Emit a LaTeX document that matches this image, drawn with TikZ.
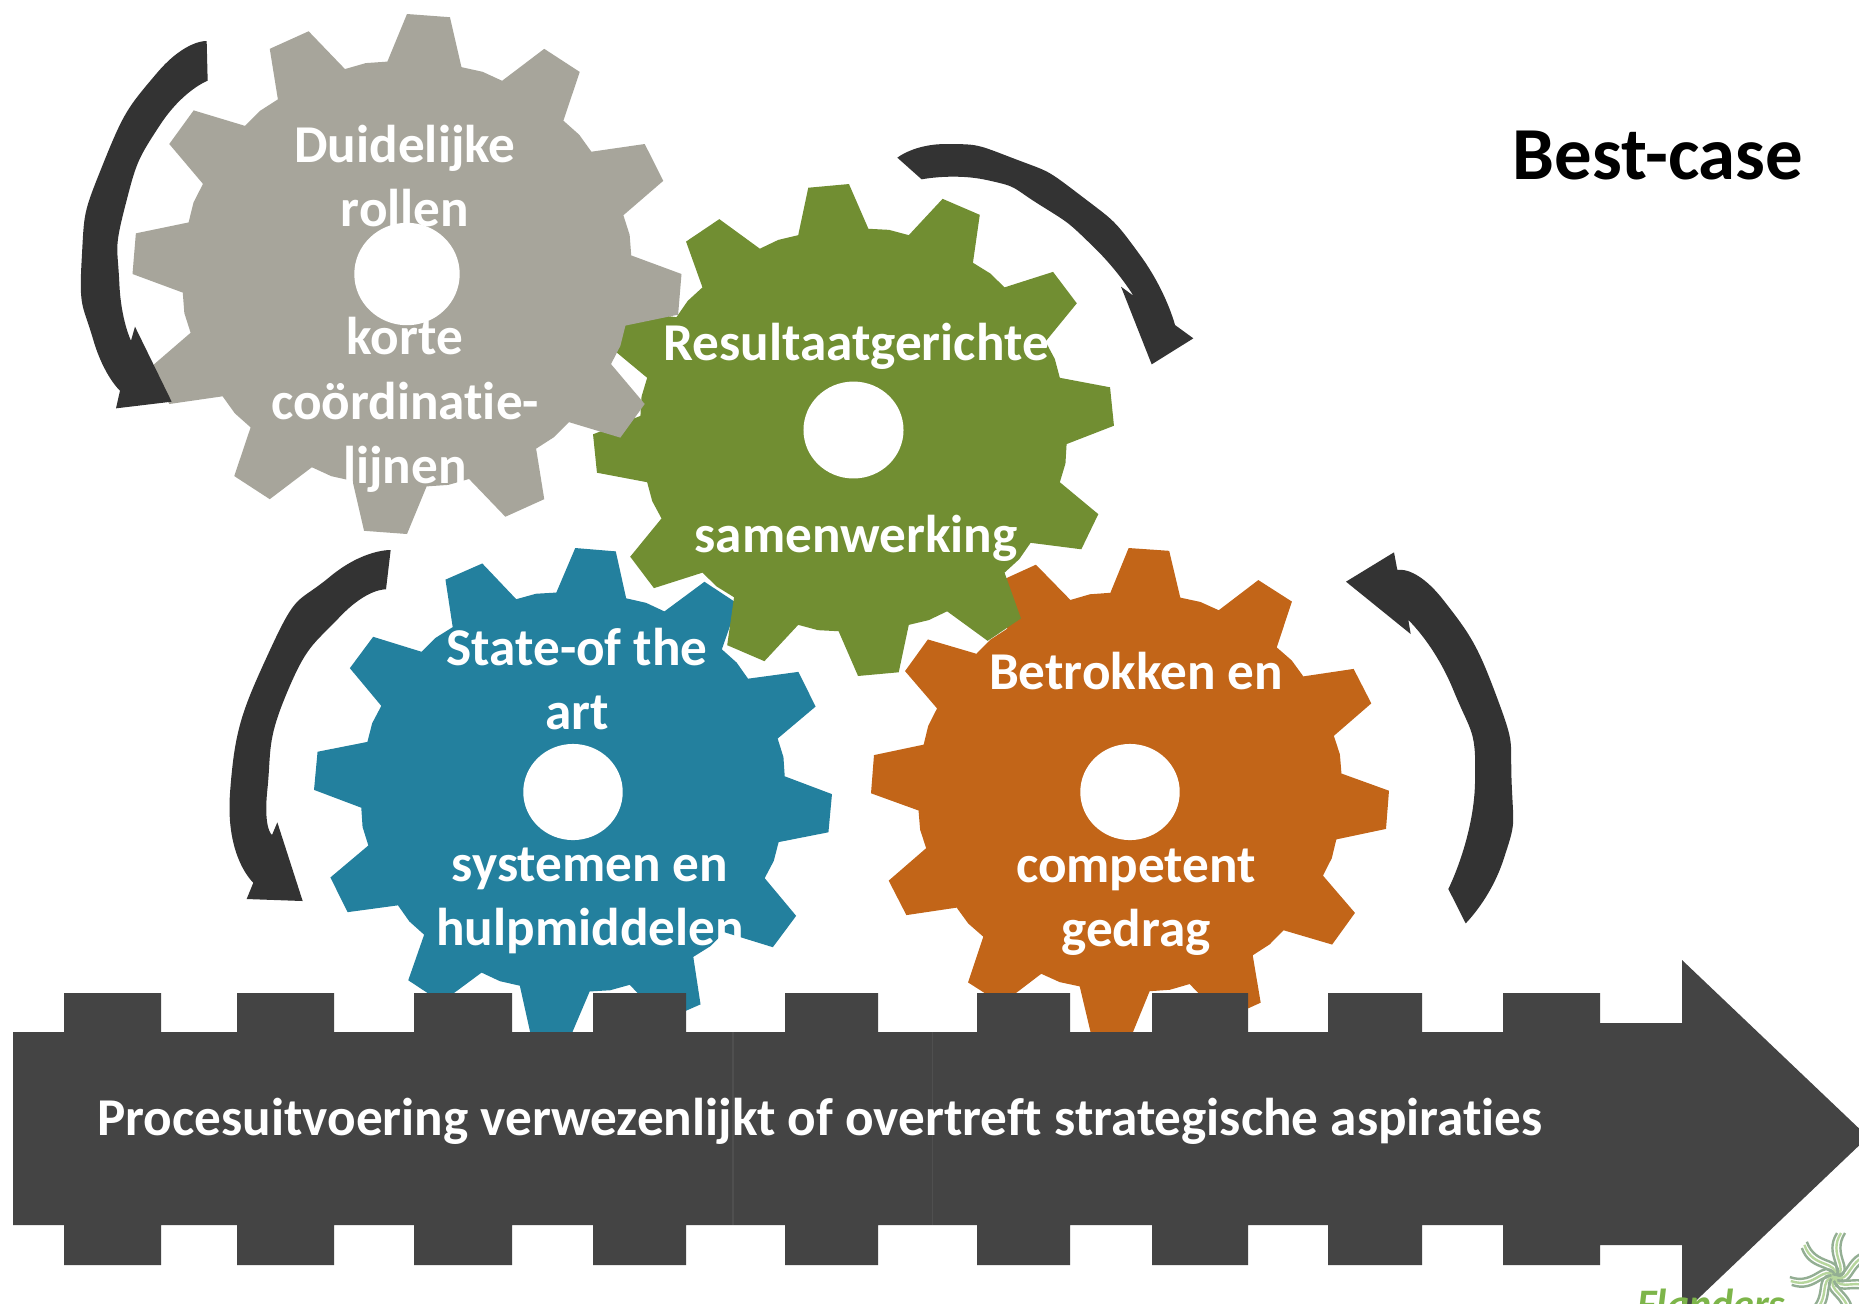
\documentclass[tikz,border=0pt]{standalone}
\usepackage{fontspec}
\setmainfont{Carlito}[Ligatures=NoCommon]
\definecolor{greygear}{HTML}{A7A59B}
\definecolor{greengear}{HTML}{718E32}
\definecolor{bluegear}{HTML}{23809E}
\definecolor{orangegear}{HTML}{C26518}
\definecolor{bandgrey}{HTML}{444444}
\definecolor{seamgrey}{HTML}{4F4F4F}
\definecolor{arrowdark}{HTML}{333333}
\definecolor{flandgreen}{HTML}{7DB54A}
\definecolor{logoa}{HTML}{93AE93}
\definecolor{logob}{HTML}{B6D69C}
\newcommand{\gearshape}[6]{%
  \fill[#6] ({#1+#3*cos(#5-4.5)},{#2-#4*sin(#5-4.5)})
  \foreach \k in {0,...,11}{
    -- ({#1+#3*cos(#5+30*\k-4.5)},{#2-#4*sin(#5+30*\k-4.5)})
    -- ({#1+#3*cos(#5+30*\k+4.5)},{#2-#4*sin(#5+30*\k+4.5)})
    -- ({#1+.82*#3*cos(#5+30*\k+9.5)},{#2-.82*#4*sin(#5+30*\k+9.5)})
    -- ({#1+.825*#3*cos(#5+30*\k+15)},{#2-.825*#4*sin(#5+30*\k+15)})
    -- ({#1+.82*#3*cos(#5+30*\k+20.5)},{#2-.82*#4*sin(#5+30*\k+20.5)})
  } -- cycle;
  \fill[white] (#1,#2) ellipse [x radius=.192*#3, y radius=.197*#4];
}
\tikzset{
  geartext/.style={font=\fontsize{26.6}{32}\selectfont\bfseries,text=white,anchor=base,inner sep=0pt},
  bandtext/.style={font=\fontsize{26.6}{32}\selectfont\bfseries,text=white,anchor=base west,inner sep=0pt},
  titletext/.style={font=\fontsize{37.4}{44}\selectfont\bfseries,text=black,anchor=base west,inner sep=0pt},
  turnarrow/.style={fill=arrowdark},
  zoomed/.style={x=.1666667pt,y=-.1666667pt}
}
\begin{document}
\begin{tikzpicture}[x=.5pt,y=-.5pt]
\useasboundingbox (0,0) rectangle (1859,1303);
\clip (0,0) rectangle (1859,1303);
\fill[white] (0,0) rectangle (1859,1303);
% gears
\gearshape{573}{792}{259}{244}{85}{bluegear}
\gearshape{1130}{792}{259}{244}{85.8}{orangegear}
\gearshape{853.5}{430}{260.5}{246}{95.5}{greengear}
\gearshape{407}{274}{274.5}{260}{85.5}{greygear}
% gear labels
\node[geartext] (t1) at (405,162.4) {Duidelijke};
\node[geartext] (t2) at (405,226.5) {rollen};
\node[geartext] (t3) at (405,354.5) {korte};
\node[geartext] (t4) at (405,419.7) {coördinatie-};
\node[geartext] (t5) at (405,483.7) {lijnen};
\node[geartext] (t6) at (856,360.4) {Resultaatgerichte};
\node[geartext] (t7) at (856,552) {samenwerking};
\node[geartext] (t8) at (577,665) {State-of the};
\node[geartext] (t9) at (577,729) {art};
\node[geartext] (t10) at (590,881) {systemen en};
\node[geartext] (t11) at (590,945) {hulpmiddelen};
\node[geartext] (t12) at (1136,689) {Betrokken en};
\node[geartext] (t13) at (1136,882) {competent};
\node[geartext] (t14) at (1136,946) {gedrag};
% band arrow
\fill[bandgrey] (13,1032)
  \foreach \a/\b in {64/161,237/334,414/512,593/686,785/878,977/1070,1152/1248,1328/1422}{
    -- (\a,1032) -- (\a,993) -- (\b,993) -- (\b,1032)
  }
  -- (1503,1032) -- (1503,993) -- (1600,993) -- (1600,1023) -- (1682,1023)
  -- (1682,960) -- (1868,1137) -- (1682,1314) -- (1682,1245) -- (1600,1245)
  -- (1600,1265) -- (1503,1265) -- (1503,1225)
  \foreach \a/\b in {1328/1422,1152/1248,977/1070,785/878,593/686,414/512,237/334,64/161}{
    -- (\b,1225) -- (\b,1265) -- (\a,1265) -- (\a,1225)
  }
  -- (13,1225) -- cycle;
\draw[seamgrey,line width=.6pt] (733,1032) -- (733,1225);
\draw[seamgrey,line width=.4pt] (932,1032) -- (932,1225);
\node[bandtext] (band) at (97,1135) {Procesuitvoering verwezenlijkt of overtreft strategische aspiraties};
\node[titletext] (title) at (1512,179) {Best-case};
% turning arrows
\begin{scope}[shift={(60,30)},zoomed]
\fill[turnarrow] plot[smooth,tension=1] coordinates {(440,33)(290,130)(130,400)(65,690)(100,930)(180,1082)}
 -- (168,1135) -- (335,1115) -- (225,890) --
 plot[smooth,tension=1] coordinates {(213,932)(178,760)(195,530)(300,285)(443,152)} -- cycle;
\end{scope}
\begin{scope}[shift={(880,130)},zoomed]
\fill[turnarrow] plot[smooth,tension=1] coordinates {(52,83)(200,42)(400,85)(600,195)(780,375)(885,585)}
 -- (940,625) -- (815,703) -- (723,470) --
 plot[smooth,tension=1] coordinates {(760,497)(640,350)(480,225)(320,150)(125,148)} -- cycle;
\end{scope}
\begin{scope}[shift={(1320,530)},zoomed]
\fill[turnarrow] plot[smooth,tension=1] coordinates {(437,1180)(550,990)(575,760)(530,500)(370,210)(232,120)}
 -- (222,67) -- (78,155) -- (272,312) --
 plot[smooth,tension=1] coordinates {(265,270)(400,480)(465,760)(385,1077)} -- cycle;
\end{scope}
\begin{scope}[shift={(210,530)},zoomed]
\fill[turnarrow] plot[smooth,tension=1] coordinates {(542,60)(360,140)(180,360)(60,790)(130,1058)}
 -- (110,1107) -- (278,1113) -- (202,877) --
 plot[smooth,tension=1] coordinates {(186,915)(172,780)(230,490)(390,260)(528,178)} -- cycle;
\end{scope}
% logo, cut by the picture's lower edge
\node[font=\fontsize{21}{24}\selectfont\bfseries\itshape,text=flandgreen,anchor=base west,inner sep=0pt] (flanders) at (1637,1318) {Flanders};
\begin{scope}[shift={(1835,1277)}]
\foreach \r in {0,51.4,102.9,154.3,205.7,257.1,308.6}{
  \begin{scope}[rotate=\r]
  \draw[logoa,line width=1.2pt] (-4,0) .. controls (12,-8) and (-12,-22) .. (2,-44);
  \draw[logob,line width=1.2pt] (0,0) .. controls (16,-8) and (-8,-22) .. (6,-44);
  \draw[logoa,line width=1.2pt] (4,0) .. controls (20,-8) and (-4,-22) .. (10,-44);
  \end{scope}
}
\end{scope}
\end{tikzpicture}
\end{document}
